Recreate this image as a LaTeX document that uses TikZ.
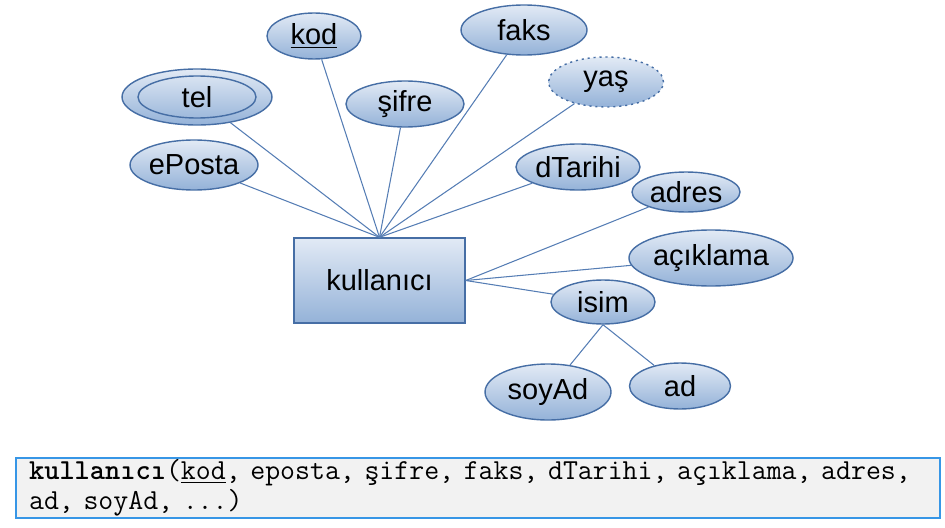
\documentclass[tikz,border=0pt]{standalone}
\usepackage{fontspec}
\setmainfont{Liberation Sans}
\usetikzlibrary{shapes.geometric}
\definecolor{erTop}{RGB}{226,234,245}
\definecolor{erBottom}{RGB}{148,178,216}
\definecolor{erBorder}{RGB}{70,110,165}
\definecolor{erLine}{RGB}{85,125,180}
\definecolor{relBorder}{RGB}{55,150,230}
\definecolor{relFill}{RGB}{242,242,242}
\begin{document}
\begin{tikzpicture}[x=0.02cm, y=-0.02cm,
  attr/.style={ellipse, draw=erBorder, thick, top color=erTop, bottom color=erBottom,
     inner sep=0pt, font=\fontsize{16.5}{18}\selectfont},
  entity/.style={rectangle, draw=erBorder, thick, top color=erTop, bottom color=erBottom,
     minimum width=3.42cm, minimum height=1.7cm, font=\fontsize{16.5}{18}\selectfont},
  link/.style={erLine, semithick}]
  \useasboundingbox (0,0) rectangle (945,527);
  % entity and its attributes
  \node[entity] (kul) at (379.5,280.5) {kullanıcı};
  \node[attr, minimum width=1.88cm, minimum height=0.92cm] (kod)  at (314,36)  {\underline{kod}};
  \node[attr, minimum width=3.0cm,  minimum height=1.12cm] (tel)  at (197,97)  {};
  \node[ellipse, draw=erBorder, thick, minimum width=2.36cm, minimum height=0.84cm,
        inner sep=0pt, font=\fontsize{16.5}{18}\selectfont] (telin) at (197,97) {tel};
  \node[attr, minimum width=2.36cm, minimum height=0.92cm] (sifre) at (405,104) {şifre};
  \node[attr, minimum width=2.52cm, minimum height=1.0cm]  (faks) at (524,30)  {faks};
  \node[attr, minimum width=2.3cm,  minimum height=1.0cm, dash pattern=on 1.2pt off 2.2pt] (yas) at (606,82) {yaş};
  \node[attr, minimum width=2.56cm, minimum height=1.0cm]  (eposta) at (194,165) {ePosta};
  \node[attr, minimum width=2.48cm, minimum height=0.92cm] (dtarihi) at (578,167) {dTarihi};
  \node[attr, minimum width=2.16cm, minimum height=0.8cm]  (adres) at (686,192) {adres};
  \node[attr, minimum width=3.04cm, minimum height=1.12cm] (aciklama) at (711,258) {açıklama};
  \node[attr, minimum width=2.08cm, minimum height=0.88cm] (isim) at (603,302) {isim};
  \node[attr, minimum width=2.52cm, minimum height=1.12cm] (soyad) at (548,392) {soyAd};
  \node[attr, minimum width=2.02cm, minimum height=0.92cm] (ad)   at (680,386) {ad};
  \draw[link] (kul.north) -- (tel);
  \draw[link] (kul.north) -- (kod);
  \draw[link] (kul.north) -- (sifre);
  \draw[link] (kul.north) -- (faks);
  \draw[link] (kul.north) -- (yas);
  \draw[link] (kul.north) -- (eposta);
  \draw[link] (kul.north) -- (dtarihi);
  \draw[link] (kul.east) -- (adres);
  \draw[link] (kul.east) -- (aciklama);
  \draw[link] (kul.east) -- (isim);
  \draw[link] (isim.south) -- (soyad);
  \draw[link] (isim.south) -- (ad);
  % relation schema
  \node[draw=relBorder, thick, fill=relFill, text width=17.96cm, inner xsep=0.26cm,
        inner ysep=1pt, minimum height=1.2cm, align=left,
        font=\ttfamily\fontsize{16.5}{17}\selectfont] (sema) at (478,488)
    {\textbf{kullanıcı}(\underline{kod}, eposta, şifre, faks, dTarihi, açıklama, adres,\\
     ad, soyAd, ...)};
\end{tikzpicture}
\end{document}
